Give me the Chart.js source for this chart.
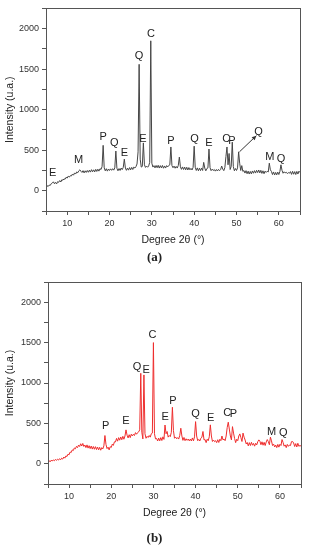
<!DOCTYPE html>
<html>
<head>
<meta charset="utf-8">
<script src="https://cdn.jsdelivr.net/npm/chart.js@4.4.1/dist/chart.umd.min.js"></script>
<style>
  body { margin: 0; background: #fff; width: 309px; height: 550px; position: relative; overflow: hidden; }
  .panel { position: absolute; left: 0; width: 309px; height: 250px; }
  .cap { position: absolute; left: 0; width: 309px; text-align: center; line-height: 16px;
         font: bold 13px "Liberation Serif", "DejaVu Serif", serif; color: #222; }
</style>
</head>
<body>
<div class="panel" style="top:0"><canvas id="xrdA" width="309" height="250"></canvas></div>
<div class="cap" style="top:249px">(a)</div>
<div class="panel" style="top:272px"><canvas id="xrdB" width="309" height="250"></canvas></div>
<div class="cap" style="top:530px">(b)</div>

<script>
// 2θ sampling: 5° .. 65°, step 0.25° (one row = 5°)
const angleStart = 5;
const angleStep = 0.25;

// (a) intensity
const intensityA = [
  48, 62, 52, 70, 66, 88, 96, 110, 86, 104, 84, 112, 104, 126, 108, 136, 130, 146, 142, 166,
  156, 180, 168, 186, 182, 206, 192, 220, 206, 232, 222, 246, 258, 240, 226, 248, 220, 246, 226, 250,
  228, 254, 230, 260, 234, 258, 232, 264, 238, 266, 242, 272, 262, 300, 560, 282, 246, 272, 242, 268,
  250, 270, 252, 272, 254, 282, 490, 276, 246, 274, 250, 280, 260, 288, 390, 280, 252, 280, 254, 286,
  258, 288, 262, 292, 280, 298, 330, 480, 1560, 390, 292, 300, 590, 320, 288, 304, 290, 306, 350, 1850,
  340, 292, 310, 282, 312, 284, 314, 280, 310, 282, 312, 278, 306, 280, 310, 294, 312, 320, 540, 310,
  284, 304, 278, 300, 280, 312, 415, 295, 264, 294, 262, 292, 258, 290, 256, 286, 258, 276, 256, 288,
  550, 290, 250, 282, 246, 278, 248, 280, 250, 350, 280, 246, 274, 282, 515, 285, 248, 266, 250, 262,
  242, 262, 244, 264, 248, 262, 305, 268, 248, 285, 420, 540, 320, 460, 262, 300, 600, 298, 246, 274,
  250, 282, 480, 340, 250, 310, 238, 250, 218, 248, 210, 242, 206, 238, 208, 244, 216, 248, 218, 252,
  224, 256, 220, 252, 214, 246, 210, 242, 226, 240, 232, 340, 258, 238, 200, 232, 194, 226, 196, 230,
  200, 238, 320, 252, 216, 234, 220, 228, 212, 224, 216, 236, 202, 240, 204, 236, 200, 238, 206, 242,
  224
];

// (b) intensity
const intensityB = [
  22, 40, 24, 44, 34, 48, 38, 54, 42, 58, 46, 64, 50, 70, 58, 84, 70, 98, 90, 120,
  112, 146, 140, 172, 164, 196, 186, 216, 200, 232, 214, 248, 220, 252, 214, 232, 200, 234, 194, 224,
  188, 220, 182, 214, 180, 212, 176, 208, 172, 204, 168, 200, 184, 222, 350, 240, 188, 206, 172, 212,
  202, 244, 228, 272, 270, 314, 280, 324, 292, 332, 298, 340, 304, 344, 420, 354, 320, 360, 324, 366,
  344, 366, 350, 386, 366, 386, 395, 420, 1120, 390, 308, 1100, 372, 316, 340, 326, 350, 330, 372, 380,
  1500, 372, 308, 314, 282, 318, 284, 324, 288, 334, 302, 480, 372, 400, 330, 350, 336, 390, 700, 410,
  316, 332, 310, 324, 306, 352, 440, 344, 290, 326, 286, 310, 290, 306, 284, 306, 282, 320, 284, 334,
  522, 344, 286, 302, 282, 316, 330, 400, 296, 300, 262, 304, 286, 334, 482, 344, 276, 294, 274, 286,
  262, 298, 264, 304, 286, 344, 296, 306, 286, 344, 450, 515, 430, 344, 296, 460, 380, 314, 262, 304,
  286, 344, 370, 324, 276, 380, 330, 294, 246, 264, 222, 262, 226, 266, 230, 252, 218, 254, 234, 274,
  296, 280, 236, 272, 230, 266, 226, 270, 300, 274, 236, 330, 284, 226, 244, 208, 232, 200, 240, 206,
  242, 226, 300, 264, 218, 234, 200, 240, 216, 232, 226, 274, 276, 258, 214, 250, 208, 254, 216, 228,
  218
];

// phase letters (label anchor: angle, intensity)
const lettersA = ['E', 'M', 'P', 'Q', 'E', 'Q', 'E', 'C', 'P', 'Q', 'E', 'C', 'P', 'Q', 'M', 'Q'];
const letterAnglesA = [6.6, 12.7, 18.5, 21.1, 23.5, 27.0, 27.9, 29.8, 34.5, 40.1, 43.5, 47.6, 48.9, 55.2, 57.9, 60.5];
const letterHeightsA = [217, 380, 658, 592, 470, 1666, 633, 1932, 612, 633, 592, 645, 612, 726, 413, 388];
const arrowA = [50.7, 480, 54.7, 680]; // from peak to the Q label

const lettersB = ['P', 'E', 'Q', 'E', 'C', 'E', 'P', 'Q', 'E', 'C', 'P', 'M', 'Q'];
const letterAnglesB = [18.7, 23.5, 26.1, 28.3, 29.8, 32.8, 34.6, 40.0, 43.6, 47.5, 49.0, 58.0, 60.8];
const letterHeightsB = [473, 531, 1195, 1161, 1593, 577, 778, 613, 564, 634, 613, 399, 379];

Chart.defaults.font.family = '"Liberation Sans", Arial, sans-serif';
Chart.defaults.animation = false;

// frame + phase letters + arrow
function peakMarksPlugin(letters, angles, heights, arrow) {
  return {
    id: 'peakMarks',
    afterDraw(chart) {
      const { ctx, chartArea: a, scales: { x, y } } = chart;
      ctx.save();
      ctx.strokeStyle = '#555';
      ctx.lineWidth = 1;
      ctx.strokeRect(Math.round(a.left) + 0.5, Math.round(a.top) + 0.5,
        Math.round(a.right - a.left), Math.round(a.bottom - a.top));

      ctx.fillStyle = '#222';
      ctx.font = '11px "Liberation Sans", Arial, sans-serif';
      ctx.textAlign = 'center';
      ctx.textBaseline = 'middle';
      letters.forEach((t, i) => {
        ctx.fillText(t, x.getPixelForValue(angles[i]), y.getPixelForValue(heights[i]));
      });

      if (arrow) {
        const x0 = x.getPixelForValue(arrow[0]), y0 = y.getPixelForValue(arrow[1]);
        const x1 = x.getPixelForValue(arrow[2]), y1 = y.getPixelForValue(arrow[3]);
        ctx.strokeStyle = '#333';
        ctx.fillStyle = '#333';
        ctx.beginPath();
        ctx.moveTo(x0, y0);
        ctx.lineTo(x1, y1);
        ctx.stroke();
        const ang = Math.atan2(y1 - y0, x1 - x0);
        ctx.beginPath();
        ctx.moveTo(x1, y1);
        ctx.lineTo(x1 - 5 * Math.cos(ang - 0.45), y1 - 5 * Math.sin(ang - 0.45));
        ctx.lineTo(x1 - 5 * Math.cos(ang + 0.45), y1 - 5 * Math.sin(ang + 0.45));
        ctx.closePath();
        ctx.fill();
      }
      ctx.restore();
    }
  };
}

function createXrdChart(canvasId, values, color, box, marks) {
  const canvas = document.getElementById(canvasId);
  if (!canvas) {
    console.error(`Canvas ${canvasId} not found`);
    return null;
  }
  const points = values.map((v, i) => ({ x: angleStart + i * angleStep, y: v }));

  return new Chart(canvas.getContext('2d'), {
    type: 'line',
    data: {
      datasets: [{
        data: points,
        borderColor: color,
        borderWidth: 1,
        pointRadius: 0,
        tension: 0,
        fill: false,
      }],
    },
    options: {
      responsive: false,
      layout: { padding: { top: box.top, right: box.right, left: 0, bottom: 0 } },
      plugins: { legend: { display: false }, tooltip: { enabled: false } },
      scales: {
        x: {
          type: 'linear',
          min: 5,
          max: 65,
          afterFit(s) { s.height = box.xHeight; },
          grid: { drawOnChartArea: false, tickLength: 4, color: '#555' },
          border: { color: '#555' },
          ticks: {
            stepSize: 5,
            autoSkip: false,
            maxRotation: 0,
            padding: 3,
            color: '#333',
            font: { size: 9 },
            callback: v => (v % 10 === 0 && v > 5 && v < 65) ? String(v) : '',
          },
          title: {
            display: true,
            text: 'Degree 2θ (°)',
            color: '#222',
            font: { size: 10.5 },
            padding: { top: 0, bottom: box.titlePad },
          },
        },
        y: {
          min: -250,
          max: 2250,
          afterFit(s) { s.width = box.yWidth; },
          grid: { drawOnChartArea: false, tickLength: 4, color: '#555' },
          border: { color: '#555' },
          ticks: {
            stepSize: 250,
            autoSkip: false,
            padding: 3,
            color: '#333',
            font: { size: 9 },
            callback: v => (v % 500 === 0 && v >= 0 && v <= 2000) ? String(v) : '',
          },
          title: {
            display: true,
            text: 'Intensity (u.a.)',
            color: '#222',
            font: { size: 10.5 },
            padding: { top: 4, bottom: 0 },
          },
        },
      },
    },
    plugins: [marks],
  });
}

createXrdChart('xrdA', intensityA, 'rgb(70, 70, 70)',
  { top: 7, right: 9, xHeight: 39, yWidth: 46, titlePad: 4 },
  peakMarksPlugin(lettersA, letterAnglesA, letterHeightsA, arrowA));

createXrdChart('xrdB', intensityB, 'rgb(238, 45, 45)',
  { top: 10, right: 8, xHeight: 38, yWidth: 48, titlePad: 3 },
  peakMarksPlugin(lettersB, letterAnglesB, letterHeightsB, null));
</script>
</body>
</html>
